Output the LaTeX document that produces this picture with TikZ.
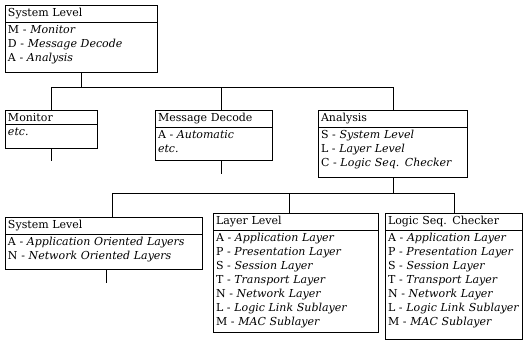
\documentclass[tikz,border=0pt]{standalone}
\usepackage{fontspec}
\setmainfont{DejaVu Serif}
\usetikzlibrary{shapes, positioning, calc}
\tikzstyle{levelbox} = [rectangle split, rectangle split parts=2, draw=black, line width=1pt, align=left, inner xsep=2.5pt, inner ysep=2.5pt, anchor=north west, font=\fontsize{11}{14}\selectfont]
\tikzstyle{link} = [draw=black, line width=0.9pt]
\newcommand{\opt}[2]{#1 - \textit{#2}}
\newcommand{\gap}[1]{\rule[-#1]{0pt}{#1}}
\hyphenpenalty=10000

\begin{document}
\begin{tikzpicture}[x=1pt, y=-1pt]
\useasboundingbox (0,0) rectangle (529,344);

\node (sys) [levelbox, text width=147pt] at (5,5) {System Level \nodepart{two} \opt{M}{Monitor}\\ \opt{D}{Message Decode}\\ \opt{A}{Analysis}\gap{8pt}};

\node (monitor) [levelbox, text width=87pt] at (5,110) {Monitor \nodepart{two} \textit{etc.}\gap{10pt}};
\node (decode) [levelbox, text width=112pt] at (155,110) {Message Decode \nodepart{two} \opt{A}{Automatic}\\ \textit{etc.}\gap{5pt}};
\node (analysis) [levelbox, text width=144pt] at (318,110) {Analysis \nodepart{two} \opt{S}{System Level}\\ \opt{L}{Layer Level}\\ \opt{C}{Logic Seq. Checker}\gap{8pt}};

\node (syslevel) [levelbox, text width=192pt] at (5,217) {System Level \nodepart{two} \opt{A}{Application Oriented Layers}\\ \opt{N}{Network Oriented Layers}\gap{7pt}};
\node (layer) [levelbox, text width=160pt] at (213,213) {Layer Level \nodepart{two} \opt{A}{Application Layer}\\ \opt{P}{Presentation Layer}\\ \opt{S}{Session Layer}\\ \opt{T}{Transport Layer}\\ \opt{N}{Network Layer}\\ \opt{L}{Logic Link Sublayer}\\ \opt{M}{MAC Sublayer}\gap{4pt}};
\node (logic) [levelbox, text width=132pt] at (385,213) {Logic Seq. Checker \nodepart{two} \opt{A}{Application Layer}\\ \opt{P}{Presentation Layer}\\ \opt{S}{Session Layer}\\ \opt{T}{Transport Layer}\\ \opt{N}{Network Layer}\\ \opt{L}{Logic Link Sublayer}\\ \opt{M}{MAC Sublayer}\gap{11pt}};

\coordinate (upperbus) at (0,87);
\coordinate (lowerbus) at (0,193);
\draw[link] (sys.south) -- (sys.south |- upperbus);
\draw[link] (monitor.north) -- (monitor.north |- upperbus) -- (analysis.north |- upperbus) -- (analysis.north);
\draw[link] ([xshift=7pt]decode.north) -- ([xshift=7pt]decode.north |- upperbus);
\draw[link] ([xshift=8pt]syslevel.north) -- ([xshift=8pt]syslevel.north |- lowerbus) -- (logic.north |- lowerbus) -- (logic.north);
\draw[link] (analysis.south) -- (analysis.south |- lowerbus);
\draw[link] ([xshift=-7pt]layer.north) -- ([xshift=-7pt]layer.north |- lowerbus);

\draw[link] (monitor.south) -- ++(0,12) coordinate (monitortail);
\draw[link] ([xshift=7pt]decode.south) -- ++(0,13) coordinate (decodetail);
\draw[link] ([xshift=2pt]syslevel.south) -- ++(0,13) coordinate (syslevtail);
\end{tikzpicture}
\end{document}
